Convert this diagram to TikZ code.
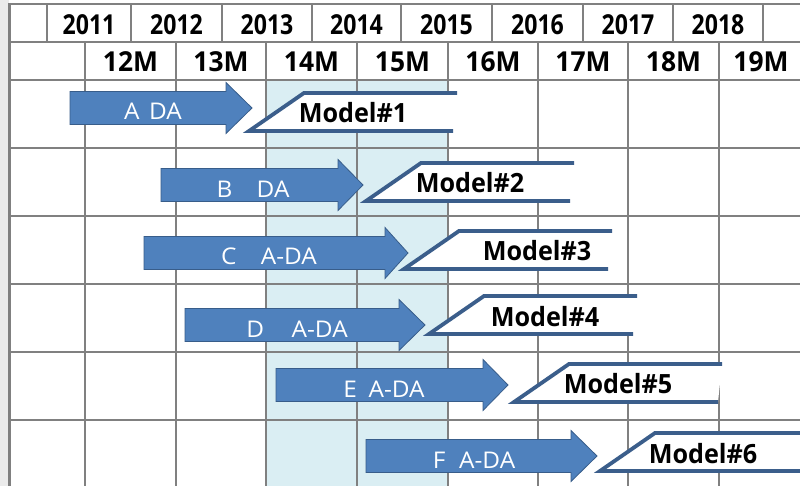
\documentclass[tikz,border=0pt]{standalone}
\usepackage{fontspec}
\usepackage{graphicx}
\setmainfont{Open Sans}

\definecolor{gridgray}{RGB}{128,128,128}
\definecolor{shadeblue}{RGB}{218,238,243}
\definecolor{arrowfill}{RGB}{79,129,189}
\definecolor{arrowedge}{RGB}{56,93,138}
\definecolor{tagedge}{RGB}{59,94,139}
\definecolor{margingray}{RGB}{235,235,235}

\begin{document}
\begin{tikzpicture}[x=1pt,y=-1pt,
  gridline/.style={draw=gridgray,line width=2.4pt},
  phase/.style={fill=arrowfill,draw=arrowedge,line width=0.8pt,line join=miter},
  phasetext/.style={text=white,font=\fontsize{23}{25}\selectfont,inner sep=0pt},
  tagfill/.style={fill=white,draw=none},
  tagline/.style={draw=tagedge,line width=3.8pt,line join=miter},
  tagtext/.style={font=\bfseries\fontsize{26.5}{28}\selectfont,inner sep=0pt},
  hdr/.style={font=\bfseries\fontsize{27.5}{29}\selectfont,inner sep=0pt}]

% page frame
\useasboundingbox (0,0) rectangle (800,486);
\clip (0,0) rectangle (800,486);
\fill[white] (0,0) rectangle (800,486);
\fill[margingray] (0,0) rectangle (8.5,486);

% highlighted columns (14M, 15M)
\fill[shadeblue] (266,80) rectangle (448,490);

% table grid
\draw[gridline] (9.5,4) -- (810,4);
\draw[gridline] (9.5,42) -- (810,42);
\draw[gridline] (9.5,80) -- (810,80);
\foreach \yy in {148,216,284,352,420}
  \draw[gridline] (9.5,\yy) -- (810,\yy);
\draw[gridline] (9.5,2.8) -- (9.5,490);
\foreach \xx in {47,131,222,312,401,492,583,673,763}
  \draw[gridline] (\xx,4) -- (\xx,42);
\foreach \xx in {85,176,266,357,448,538,628,719}
  \draw[gridline] (\xx,42) -- (\xx,490);

% year header
\foreach \xx/\yr in {89/2011,176.5/2012,267/2013,356.5/2014,446.5/2015,537.5/2016,628/2017,718/2018}
  \node[hdr] (year\yr) at (\xx,24.5) {\scalebox{0.84}[1]{\yr}};

% month header
\foreach \xx/\mo in {130.5/12,221/13,311.5/14,402.5/15,493/16,583/17,673.5/18,761/19}
  \node[hdr] (month\mo) at (\xx,62) {\scalebox{0.96}[1]{\mo M}};

% phase arrows and model tags
\foreach \l/\hb/\t/\cy/\tx/\ty/\lab/\bx/\by/\mx/\my/\n in {
  70/226/252/108/153/111/{A\hspace{9pt}DA}/249/131/353/113/1,
  161/338/363/185/253/189/{B\hspace{23pt}DA}/366/201/470/183/2,
  144/385/408/253/269/256/{C\hspace{23pt}A-DA}/404/269/537/251/3,
  185/399/425/325/297/329/{D\hspace{26pt}A-DA}/429/334/545/317/4,
  276/483/508/385/384/389/{E\hspace{11pt}A-DA}/514/402/618/384/5,
  366/571/597/456/474/460/{F\hspace{13pt}A-DA}/600/471/703/454/6}
{
  \draw[phase] (\l,{\cy-16.5}) -- (\hb,{\cy-16.5}) -- (\hb,{\cy-25.5})
    -- (\t,\cy) -- (\hb,{\cy+25.5}) -- (\hb,{\cy+16.5}) -- (\l,{\cy+16.5}) -- cycle;
  \coordinate (tip\n) at (\t,\cy);
  \node[phasetext] (phase\n) at (\tx,\ty) {\scalebox{1.06}[1]{\lab}};
  \fill[tagfill] (\bx,\by) -- ({\bx+55},{\by-38}) -- ({\bx+208},{\by-38})
    -- ({\bx+204},\by) -- cycle;
  \draw[tagline] ({\bx+208},{\by-38}) -- ({\bx+55},{\by-38}) -- (\bx,\by)
    -- ({\bx+204},\by);
  \node[tagtext] (model\n) at (\mx,\my) {\scalebox{0.95}[1]{Model\#\n}};
}
\end{tikzpicture}
\end{document}
